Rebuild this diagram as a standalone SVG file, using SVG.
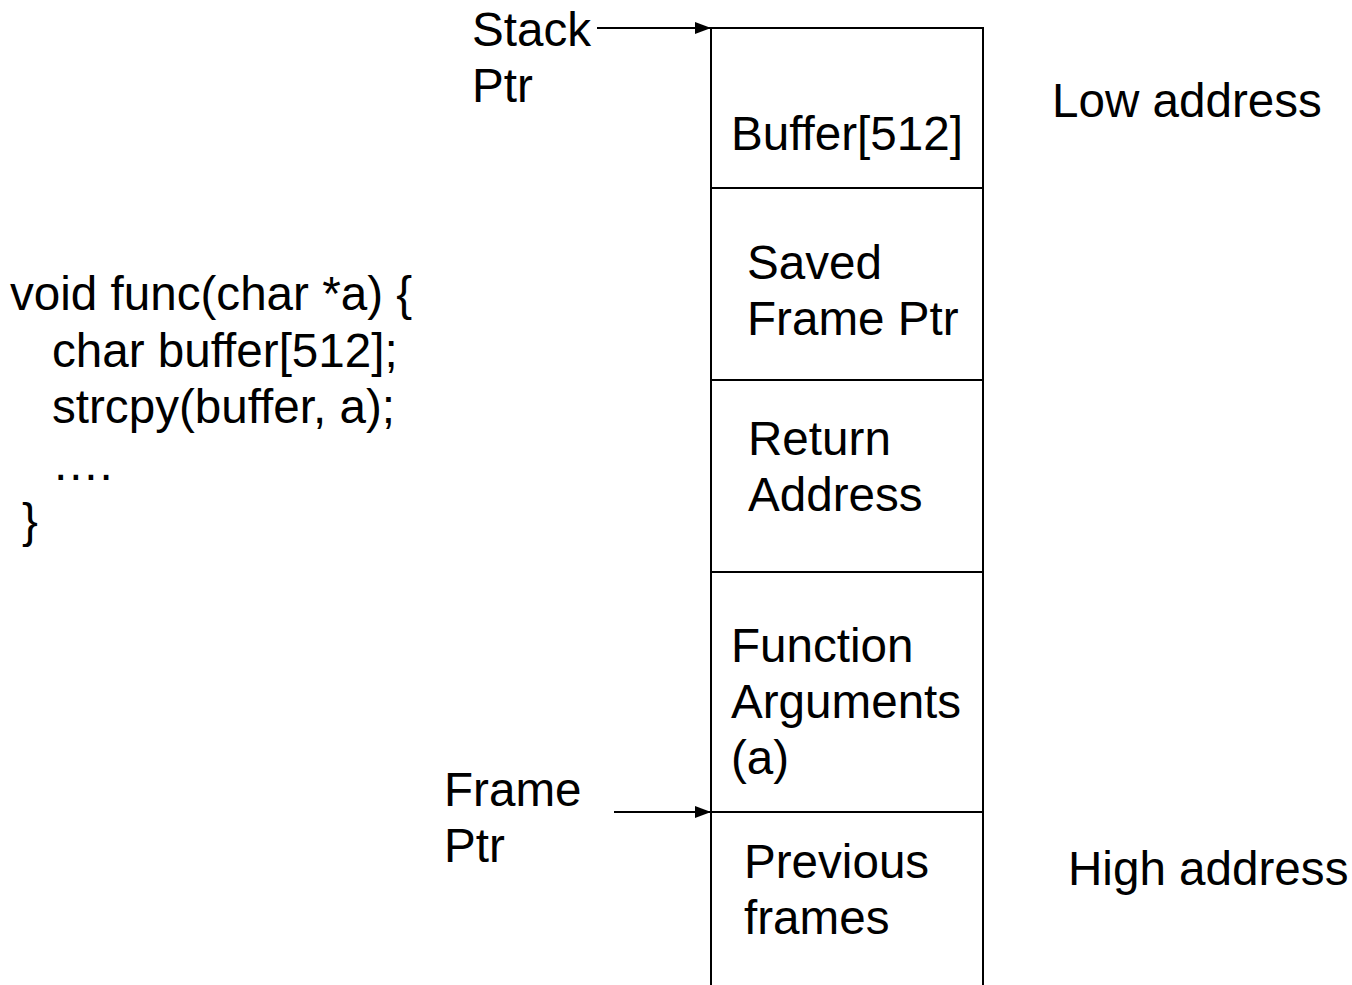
<svg xmlns="http://www.w3.org/2000/svg" width="1352" height="985" viewBox="0 0 1352 985">
<defs>
<style>
text{font-family:"Liberation Sans",Arial,sans-serif;font-size:47.6px;fill:#000}
.ln{stroke:#000;stroke-width:2;fill:none}
</style>
<marker id="ah" viewBox="0 0 16 12" refX="16" refY="6" markerWidth="16" markerHeight="12" markerUnits="userSpaceOnUse" orient="auto">
<path d="M0,0 L16,6 L0,12 Z" fill="#000"/>
</marker>
</defs>
<rect width="1352" height="985" fill="#fff"/>
<g id="stack">
<path class="ln" d="M711,990 V28 H983 V990"/>
</g>
<g id="buffer">
<text x="731" y="150">Buffer[512]</text>
</g>
<g id="saved-frame-ptr">
<line class="ln" x1="711" y1="188" x2="983" y2="188"/>
<text x="747" y="279">Saved</text>
<text x="747" y="335">Frame Ptr</text>
</g>
<g id="return-address">
<line class="ln" x1="711" y1="380" x2="983" y2="380"/>
<text x="748" y="455">Return</text>
<text x="748" y="511">Address</text>
</g>
<g id="function-arguments">
<line class="ln" x1="711" y1="572" x2="983" y2="572"/>
<text x="731" y="662">Function</text>
<text x="731" y="718">Arguments</text>
<text x="731" y="774">(a)</text>
</g>
<g id="previous-frames">
<line class="ln" x1="711" y1="812" x2="983" y2="812"/>
<text x="744" y="878">Previous</text>
<text x="744" y="934">frames</text>
</g>
<g id="stack-ptr">
<text x="472" y="46">Stack</text>
<text x="472" y="102">Ptr</text>
</g>
<g id="frame-ptr">
<text x="444" y="806">Frame</text>
<text x="444" y="862">Ptr</text>
</g>
<g id="low-address"><text x="1052" y="117">Low address</text></g>
<g id="high-address"><text x="1068" y="885">High address</text></g>
<g id="code">
<text x="10" y="310">void func(char *a) {</text>
<text x="52" y="367">char buffer[512];</text>
<text x="52" y="423">strcpy(buffer, a);</text>
<text x="52" y="480">….</text>
<text x="22" y="537">}</text>
</g>
<g id="connectors">
<line class="ln" x1="597" y1="28" x2="711" y2="28" marker-end="url(#ah)"/>
<line class="ln" x1="614" y1="812" x2="711" y2="812" marker-end="url(#ah)"/>
</g>
</svg>
